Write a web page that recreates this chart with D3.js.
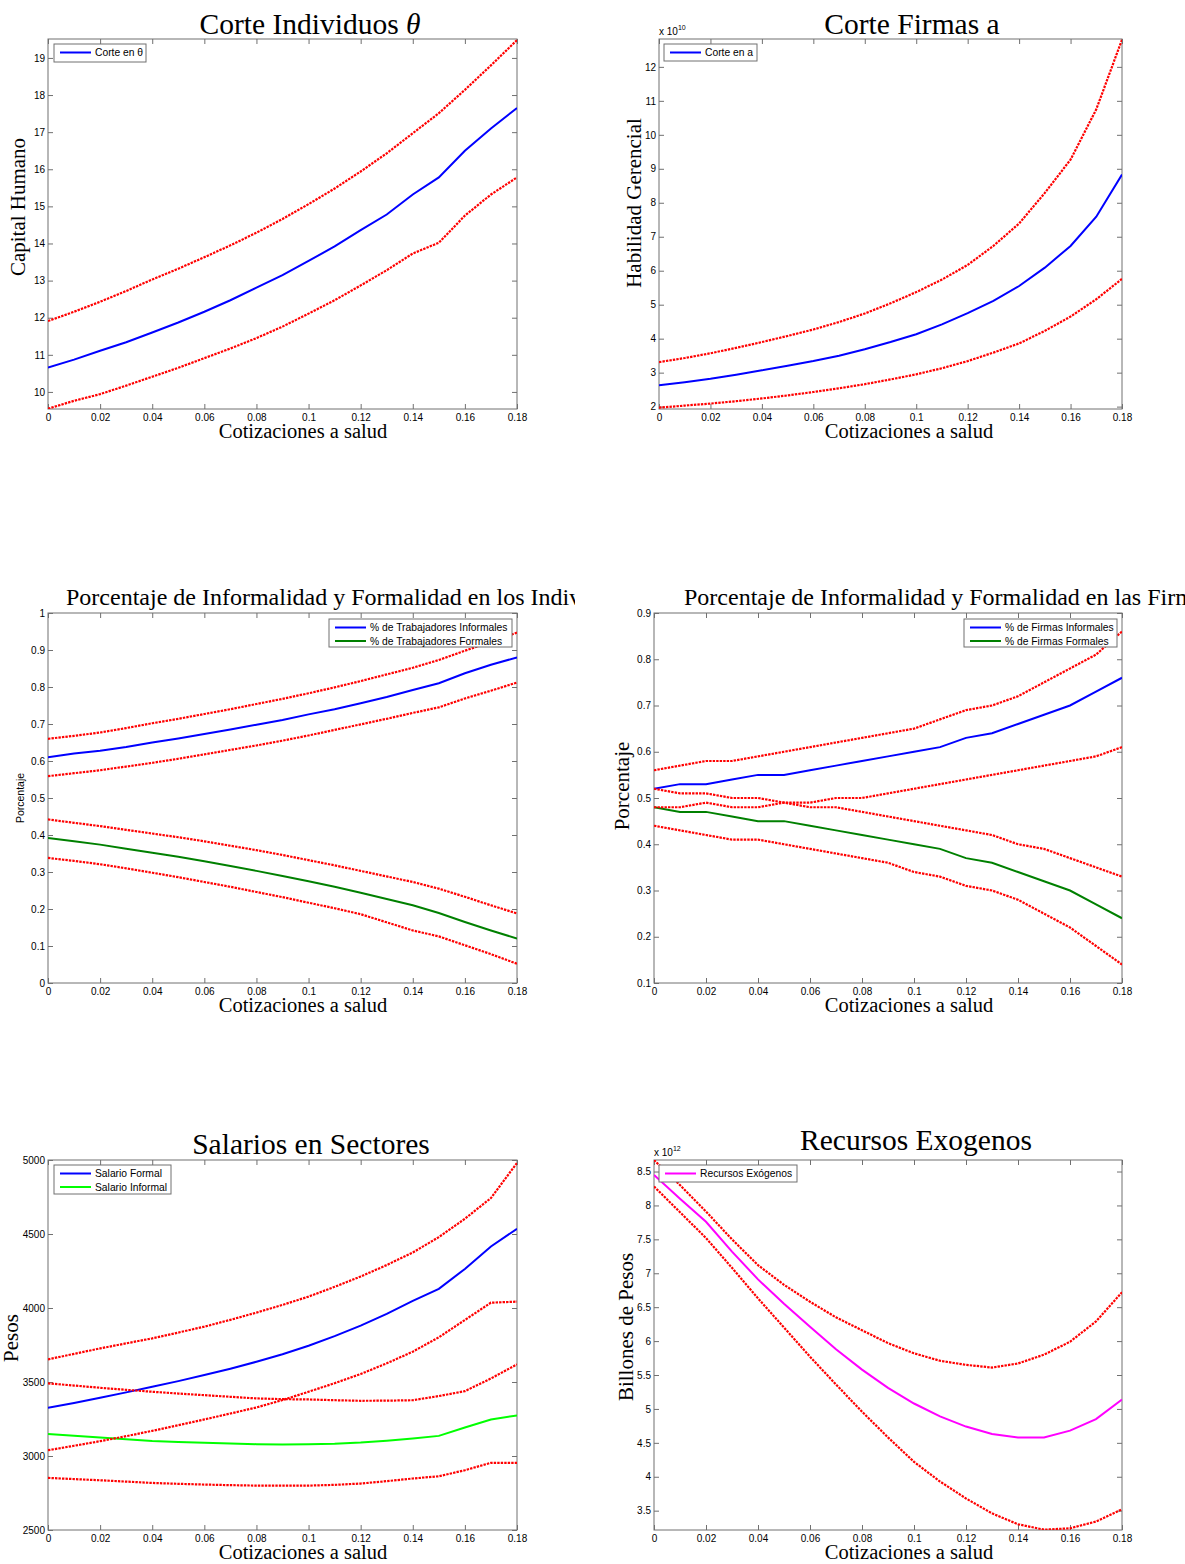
<!DOCTYPE html>
<html>
<head>
<meta charset="utf-8">
<script src="https://cdn.jsdelivr.net/npm/d3@7"></script>
<style>
  body { margin: 0; background: #fff; }
  .tick text { font-family: "Liberation Sans", Arial, sans-serif; font-size: 10px; fill: #000; }
  .tick line { stroke: #707070; }
  .serif { font-family: "Liberation Serif", "Times New Roman", serif; fill: #000; }
  .sans { font-family: "Liberation Sans", Arial, sans-serif; fill: #000; }
</style>
</head>
<body>
<svg id="fig" width="1185" height="1564"></svg>
<script>
// Cotizaciones a salud (eje x comun)
const tasa = [0, 0.01, 0.02, 0.03, 0.04, 0.05, 0.06, 0.07, 0.08, 0.09, 0.1, 0.11, 0.12, 0.13, 0.14, 0.15, 0.16, 0.17, 0.18];
const xTicks = [0, 0.02, 0.04, 0.06, 0.08, 0.1, 0.12, 0.14, 0.16, 0.18];

// Corte individuos theta
const corteTheta    = [10.66, 10.87, 11.11, 11.34, 11.6, 11.87, 12.16, 12.47, 12.81, 13.15, 13.53, 13.92, 14.36, 14.78, 15.32, 15.78, 16.5, 17.1, 17.65];
const corteThetaSup = [11.91, 12.16, 12.43, 12.72, 13.03, 13.32, 13.63, 13.95, 14.29, 14.66, 15.06, 15.48, 15.94, 16.43, 16.97, 17.51, 18.14, 18.8, 19.48];
const corteThetaInf = [9.55, 9.76, 9.94, 10.17, 10.41, 10.65, 10.91, 11.17, 11.45, 11.76, 12.11, 12.47, 12.87, 13.28, 13.73, 14.02, 14.75, 15.32, 15.78];
const yTicksTheta = [10, 11, 12, 13, 14, 15, 16, 17, 18, 19];

// Corte firmas a (x 10^10)
const corteA    = [2.63, 2.72, 2.82, 2.94, 3.07, 3.2, 3.34, 3.5, 3.69, 3.9, 4.13, 4.42, 4.75, 5.11, 5.55, 6.09, 6.73, 7.59, 8.83];
const corteASup = [3.31, 3.43, 3.57, 3.73, 3.9, 4.08, 4.27, 4.49, 4.74, 5.04, 5.37, 5.74, 6.17, 6.73, 7.39, 8.29, 9.27, 10.75, 12.8];
const corteAInf = [1.97, 2.03, 2.09, 2.16, 2.24, 2.33, 2.43, 2.54, 2.66, 2.8, 2.95, 3.13, 3.34, 3.59, 3.86, 4.23, 4.65, 5.16, 5.76];
const yTicksA = [2, 3, 4, 5, 6, 7, 8, 9, 10, 11, 12];

// Trabajadores informales / formales
const trabInf    = [0.61, 0.62, 0.628, 0.638, 0.65, 0.661, 0.673, 0.685, 0.698, 0.711, 0.726, 0.74, 0.756, 0.773, 0.792, 0.81, 0.837, 0.86, 0.88];
const trabInfSup = [0.66, 0.668, 0.677, 0.689, 0.702, 0.714, 0.727, 0.74, 0.754, 0.768, 0.783, 0.799, 0.816, 0.834, 0.852, 0.873, 0.898, 0.922, 0.947];
const trabInfInf = [0.559, 0.567, 0.575, 0.585, 0.595, 0.606, 0.618, 0.63, 0.642, 0.655, 0.669, 0.684, 0.699, 0.714, 0.73, 0.745, 0.769, 0.79, 0.812];
const trabFor    = [0.392, 0.383, 0.374, 0.363, 0.352, 0.341, 0.329, 0.316, 0.303, 0.289, 0.275, 0.26, 0.244, 0.227, 0.21, 0.189, 0.165, 0.142, 0.12];
const trabForSup = [0.442, 0.433, 0.424, 0.414, 0.404, 0.394, 0.383, 0.371, 0.359, 0.346, 0.332, 0.318, 0.303, 0.288, 0.273, 0.255, 0.233, 0.21, 0.188];
const trabForInf = [0.338, 0.33, 0.321, 0.31, 0.298, 0.286, 0.273, 0.26, 0.246, 0.232, 0.217, 0.202, 0.186, 0.164, 0.142, 0.126, 0.102, 0.078, 0.052];
const yTicksTrab = [0, 0.1, 0.2, 0.3, 0.4, 0.5, 0.6, 0.7, 0.8, 0.9, 1];

// Firmas informales / formales
const firmInf    = [0.52, 0.53, 0.53, 0.54, 0.55, 0.55, 0.56, 0.57, 0.58, 0.59, 0.6, 0.61, 0.63, 0.64, 0.66, 0.68, 0.7, 0.73, 0.76];
const firmInfSup = [0.56, 0.57, 0.58, 0.58, 0.59, 0.6, 0.61, 0.62, 0.63, 0.64, 0.65, 0.67, 0.69, 0.7, 0.72, 0.75, 0.78, 0.81, 0.86];
const firmInfInf = [0.48, 0.48, 0.49, 0.48, 0.48, 0.49, 0.49, 0.5, 0.5, 0.51, 0.52, 0.53, 0.54, 0.55, 0.56, 0.57, 0.58, 0.59, 0.61];
const firmFor    = [0.48, 0.47, 0.47, 0.46, 0.45, 0.45, 0.44, 0.43, 0.42, 0.41, 0.4, 0.39, 0.37, 0.36, 0.34, 0.32, 0.3, 0.27, 0.24];
const firmForSup = [0.52, 0.51, 0.51, 0.5, 0.5, 0.49, 0.48, 0.48, 0.47, 0.46, 0.45, 0.44, 0.43, 0.42, 0.4, 0.39, 0.37, 0.35, 0.33];
const firmForInf = [0.44, 0.43, 0.42, 0.41, 0.41, 0.4, 0.39, 0.38, 0.37, 0.36, 0.34, 0.33, 0.31, 0.3, 0.28, 0.25, 0.22, 0.18, 0.14];
const yTicksFirm = [0.1, 0.2, 0.3, 0.4, 0.5, 0.6, 0.7, 0.8, 0.9];

// Salarios
const salFormal      = [3326, 3358, 3394, 3430, 3468, 3506, 3547, 3590, 3637, 3688, 3745, 3810, 3881, 3960, 4048, 4129, 4264, 4416, 4535];
const salFormalSup   = [3653, 3690, 3727, 3761, 3795, 3834, 3874, 3920, 3969, 4021, 4077, 4143, 4213, 4290, 4375, 4479, 4603, 4743, 4980];
const salFormalInf   = [3039, 3069, 3100, 3134, 3170, 3208, 3247, 3287, 3328, 3378, 3434, 3492, 3554, 3626, 3705, 3802, 3919, 4036, 4043];
const salInformal    = [3148, 3136, 3125, 3113, 3102, 3095, 3089, 3084, 3080, 3078, 3080, 3083, 3091, 3103, 3118, 3136, 3193, 3247, 3274];
const salInformalSup = [3491, 3476, 3461, 3447, 3434, 3422, 3411, 3400, 3389, 3384, 3382, 3377, 3373, 3374, 3377, 3405, 3438, 3524, 3619];
const salInformalInf = [2852, 2844, 2836, 2827, 2818, 2812, 2807, 2803, 2800, 2800, 2800, 2805, 2814, 2830, 2848, 2863, 2904, 2954, 2954];
const yTicksSal = [2500, 3000, 3500, 4000, 4500, 5000];

// Recursos exogenos (x 10^12)
const recursos    = [8.45, 8.1, 7.76, 7.32, 6.91, 6.55, 6.21, 5.88, 5.58, 5.31, 5.08, 4.89, 4.74, 4.63, 4.58, 4.58, 4.68, 4.85, 5.14];
const recursosSup = [8.67, 8.3, 7.91, 7.5, 7.12, 6.83, 6.58, 6.35, 6.16, 5.97, 5.82, 5.71, 5.65, 5.61, 5.67, 5.8, 5.99, 6.29, 6.72];
const recursosInf = [8.28, 7.9, 7.52, 7.08, 6.63, 6.2, 5.77, 5.36, 4.96, 4.58, 4.22, 3.93, 3.68, 3.46, 3.3, 3.22, 3.24, 3.34, 3.52];
const yTicksRec = [3.5, 4, 4.5, 5, 5.5, 6, 6.5, 7, 7.5, 8, 8.5];

const svg = d3.select("#fig");
const defs = svg.append("defs");
const axisGray = "#707070";
const fmt = d3.format("~g");
const red = { color: "#ff0000", dash: "2.4,1.1" };

function panel(p) {
  const x = d3.scaleLinear().domain([0, 0.18]).range([p.l, p.r]);
  const y = d3.scaleLinear().domain(p.yDom).range([p.b, p.t]);
  const g = svg.append("g");

  defs.append("clipPath").attr("id", "clip" + p.id)
    .append("rect")
    .attr("x", p.l).attr("y", p.t)
    .attr("width", p.r - p.l).attr("height", p.b - p.t);

  // ticks on all four sides, pointing inwards
  const ax = (gen, tr) => g.append("g").attr("transform", tr).call(gen)
    .call(s => s.select(".domain").remove());
  ax(d3.axisBottom(x).tickValues(xTicks).tickFormat(fmt).tickSizeInner(-5).tickSizeOuter(0).tickPadding(5), `translate(0,${p.b})`);
  ax(d3.axisTop(x).tickValues(xTicks).tickFormat("").tickSizeInner(-5).tickSizeOuter(0), `translate(0,${p.t})`);
  ax(d3.axisLeft(y).tickValues(p.yTicks).tickFormat(fmt).tickSizeInner(-5).tickSizeOuter(0).tickPadding(3), `translate(${p.l},0)`);
  ax(d3.axisRight(y).tickValues(p.yTicks).tickFormat("").tickSizeInner(-5).tickSizeOuter(0), `translate(${p.r},0)`);
  g.selectAll(".tick text").attr("fill", "#000");

  g.append("rect")
    .attr("x", p.l).attr("y", p.t)
    .attr("width", p.r - p.l).attr("height", p.b - p.t)
    .attr("fill", "none").attr("stroke", axisGray).attr("stroke-width", 1);

  const line = d3.line().x((d, i) => x(tasa[i])).y(d => y(d));
  const lines = g.append("g").attr("clip-path", `url(#clip${p.id})`);
  p.series.forEach(s => {
    lines.append("path")
      .attr("d", line(s.values))
      .attr("fill", "none")
      .attr("stroke", s.color)
      .attr("stroke-width", s.dash ? 2.2 : 2)
      .attr("stroke-dasharray", s.dash || null);
  });

  // legend
  const L = p.legend;
  const lg = g.append("g");
  lg.append("rect")
    .attr("x", L.x).attr("y", L.y).attr("width", L.w).attr("height", L.h)
    .attr("fill", "#fff").attr("stroke", axisGray).attr("stroke-width", 1);
  L.items.forEach((it, i) => {
    const cy = L.y + 8.5 + i * 13.5;
    lg.append("line")
      .attr("x1", L.x + 6).attr("x2", L.x + 37)
      .attr("y1", cy).attr("y2", cy)
      .attr("stroke", it.color).attr("stroke-width", 2);
    lg.append("text").attr("class", "sans")
      .attr("x", L.x + 41).attr("y", cy + 3.5)
      .attr("font-size", 10.3)
      .text(it.label);
  });

  // x label
  g.append("text").attr("class", "serif")
    .attr("x", p.xlabX).attr("y", p.b + 29)
    .attr("text-anchor", "middle").attr("font-size", 20.5)
    .text("Cotizaciones a salud");

  // y label
  g.append("text").attr("class", p.ylab.sans ? "sans" : "serif")
    .attr("transform", `translate(${p.ylab.x},${p.ylab.y}) rotate(-90)`)
    .attr("text-anchor", "middle").attr("font-size", p.ylab.size)
    .text(p.ylab.text);

  // exponent
  if (p.exp) {
    const t = g.append("text").attr("class", "sans")
      .attr("x", p.l).attr("y", p.t - 4).attr("font-size", 10);
    t.append("tspan").text("x 10");
    t.append("tspan").attr("font-size", 7).attr("dy", -5).text(p.exp);
  }

  // title
  const tt = g.append("text").attr("class", "serif")
    .attr("x", p.title.x).attr("y", p.title.y)
    .attr("text-anchor", p.title.anchor).attr("font-size", p.title.size);
  if (p.title.clip) tt.attr("clip-path", `url(#tclip${p.id})`);
  p.title.parts.forEach(pt => {
    tt.append("tspan").attr("font-style", pt.italic ? "italic" : null).text(pt.text);
  });
}

defs.append("clipPath").attr("id", "tclip3")
  .append("rect").attr("x", 0).attr("y", 570).attr("width", 575).attr("height", 60);

panel({
  id: 1, l: 48, r: 517, t: 39, b: 409, yDom: [9.54, 19.51], yTicks: yTicksTheta,
  series: [
    { values: corteTheta, color: "#0000ff" },
    { values: corteThetaSup, ...red },
    { values: corteThetaInf, ...red }
  ],
  legend: { x: 54, y: 44, w: 92, h: 18, items: [{ label: "Corte en θ", color: "#0000ff" }] },
  xlabX: 303,
  ylab: { text: "Capital Humano", x: 25, y: 207, size: 21 },
  title: { x: 310, y: 34, anchor: "middle", size: 29.5, parts: [{ text: "Corte Individuos " }, { text: "θ", italic: true }] }
});

panel({
  id: 2, l: 659, r: 1122, t: 39, b: 409, yDom: [1.93, 12.82], yTicks: yTicksA,
  series: [
    { values: corteA, color: "#0000ff" },
    { values: corteASup, ...red },
    { values: corteAInf, ...red }
  ],
  legend: { x: 664, y: 44, w: 93, h: 17, items: [{ label: "Corte en a", color: "#0000ff" }] },
  xlabX: 909,
  ylab: { text: "Habilidad Gerencial", x: 641, y: 203, size: 21 },
  exp: "10",
  title: { x: 912, y: 34, anchor: "middle", size: 29.5, parts: [{ text: "Corte Firmas a" }] }
});

panel({
  id: 3, l: 48, r: 517, t: 613, b: 983, yDom: [0, 1], yTicks: yTicksTrab,
  series: [
    { values: trabInf, color: "#0000ff" },
    { values: trabFor, color: "#008000" },
    { values: trabInfSup, ...red },
    { values: trabInfInf, ...red },
    { values: trabForSup, ...red },
    { values: trabForInf, ...red }
  ],
  legend: { x: 329, y: 619, w: 183, h: 28, items: [
    { label: "% de Trabajadores Informales", color: "#0000ff" },
    { label: "% de Trabajadores Formales", color: "#008000" }
  ] },
  xlabX: 303,
  ylab: { text: "Porcentaje", x: 24, y: 798, size: 10.5, sans: true },
  title: { x: 66, y: 605, anchor: "start", size: 24, clip: true, parts: [{ text: "Porcentaje de Informalidad y Formalidad en los Individuos" }] }
});

panel({
  id: 4, l: 654, r: 1122, t: 613, b: 983, yDom: [0.1, 0.9], yTicks: yTicksFirm,
  series: [
    { values: firmInf, color: "#0000ff" },
    { values: firmFor, color: "#008000" },
    { values: firmInfSup, ...red },
    { values: firmInfInf, ...red },
    { values: firmForSup, ...red },
    { values: firmForInf, ...red }
  ],
  legend: { x: 964, y: 619, w: 153, h: 28, items: [
    { label: "% de Firmas Informales", color: "#0000ff" },
    { label: "% de Firmas Formales", color: "#008000" }
  ] },
  xlabX: 909,
  ylab: { text: "Porcentaje", x: 629, y: 786, size: 21 },
  title: { x: 684, y: 605, anchor: "start", size: 24, parts: [{ text: "Porcentaje de Informalidad y Formalidad en las Firmas" }] }
});

panel({
  id: 5, l: 48, r: 517, t: 1160, b: 1530, yDom: [2500, 5000], yTicks: yTicksSal,
  series: [
    { values: salFormal, color: "#0000ff" },
    { values: salInformal, color: "#00ff00" },
    { values: salFormalSup, ...red },
    { values: salFormalInf, ...red },
    { values: salInformalSup, ...red },
    { values: salInformalInf, ...red }
  ],
  legend: { x: 54, y: 1165, w: 117, h: 29, items: [
    { label: "Salario Formal", color: "#0000ff" },
    { label: "Salario Informal", color: "#00ff00" }
  ] },
  xlabX: 303,
  ylab: { text: "Pesos", x: 18, y: 1338, size: 21 },
  title: { x: 311, y: 1154, anchor: "middle", size: 29.5, parts: [{ text: "Salarios en Sectores" }] }
});

panel({
  id: 6, l: 654, r: 1122, t: 1160, b: 1530, yDom: [3.215, 8.67], yTicks: yTicksRec,
  series: [
    { values: recursos, color: "#ff00ff" },
    { values: recursosSup, ...red },
    { values: recursosInf, ...red }
  ],
  legend: { x: 659, y: 1165, w: 138, h: 17, items: [{ label: "Recursos Exógenos", color: "#ff00ff" }] },
  xlabX: 909,
  ylab: { text: "Billones de Pesos", x: 633, y: 1327, size: 21 },
  exp: "12",
  title: { x: 916, y: 1150, anchor: "middle", size: 29.5, parts: [{ text: "Recursos Exogenos" }] }
});
</script>
</body>
</html>
